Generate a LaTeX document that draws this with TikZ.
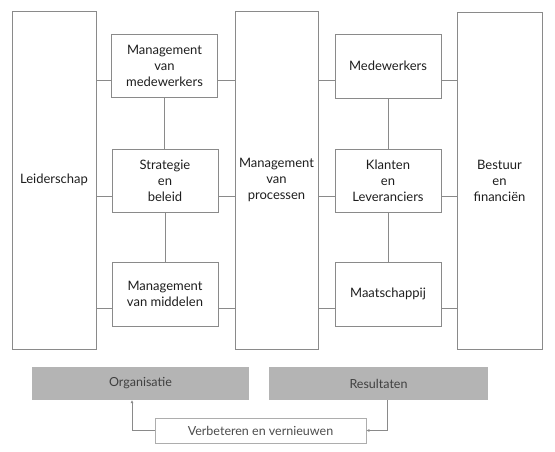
\documentclass[tikz,border=0pt]{standalone}
\usepackage{fontspec}
\setmainfont{Lato}
\usetikzlibrary{arrows.meta}
\definecolor{ln}{HTML}{8A8A8A}
\definecolor{gr}{HTML}{B4B4B4}
\definecolor{tx}{HTML}{1E1E1E}
\tikzset{
  box/.style={draw=ln, line width=0.9pt, align=center, text=tx, font=\fontsize{13}{16}\selectfont, inner sep=0pt},
  conn/.style={draw=ln, line width=0.9pt},
  graybox/.style={fill=gr, draw=none, text=black!75, font=\fontsize{12.5}{16}\selectfont, inner sep=0pt},
  arr/.style={draw=ln, line width=0.7pt, -{Latex[length=3pt,width=3pt]}}
}
\begin{document}
\begin{tikzpicture}[x=1pt,y=1pt]
\useasboundingbox (0,0) rectangle (555,-451);
% tall boxes
\node[box, minimum width=84, minimum height=338] (lead) at (54,-180) {Leiderschap};
\node[box, minimum width=83, minimum height=338] (proc) at (276.5,-180) {Management\\van\\processen};
\node[box, minimum width=85, minimum height=337] (best) at (499.5,-180.5) {Bestuur\\en\\financiën};
% left column
\node[box, minimum width=106, minimum height=63] (mvm) at (164.5,-65.5) {Management\\van\\medewerkers};
\node[box, minimum width=106, minimum height=63] (str) at (165,-180.5) {Strategie\\en\\beleid};
\node[box, minimum width=106, minimum height=64] (mid) at (165,-294) {Management\\van middelen};
% right column
\node[box, minimum width=106, minimum height=64] (med) at (388,-66) {Medewerkers};
\node[box, minimum width=106, minimum height=63] (kla) at (388,-180.5) {Klanten\\en\\Leveranciers};
\node[box, minimum width=106, minimum height=64] (maa) at (388,-294) {Maatschappij};
% connectors
\draw[conn] (mvm.west |- 0,-80) -- (lead.east |- 0,-80);
\draw[conn] (mvm.east |- 0,-80) -- (proc.west |- 0,-80);
\draw[conn] (str.west |- 0,-196) -- (lead.east |- 0,-196);
\draw[conn] (str.east |- 0,-196) -- (proc.west |- 0,-196);
\draw[conn] (mid.west |- 0,-308) -- (lead.east |- 0,-308);
\draw[conn] (mid.east |- 0,-308) -- (proc.west |- 0,-308);
\draw[conn] (mvm.south) -- (mvm.south |- str.north);
\draw[conn] (str.south) -- (str.south |- mid.north);
\draw[conn] (med.west |- 0,-80) -- (proc.east |- 0,-80);
\draw[conn] (med.east |- 0,-80) -- (best.west |- 0,-80);
\draw[conn] (kla.west |- 0,-196) -- (proc.east |- 0,-196);
\draw[conn] (kla.east |- 0,-196) -- (best.west |- 0,-196);
\draw[conn] (maa.west |- 0,-308) -- (proc.east |- 0,-308);
\draw[conn] (maa.east |- 0,-308) -- (best.west |- 0,-308);
\draw[conn] (med.south) -- (med.south |- kla.north);
\draw[conn] (kla.south) -- (kla.south |- maa.north);
% bottom
\node[graybox, minimum width=217, minimum height=33] (org) at (140.5,-383.5) {Organisatie};
\node[graybox, minimum width=219, minimum height=33] (res) at (378.5,-383.5) {Resultaten};
\node[box, draw=ln!70, line width=0.7pt, text=black!70, font=\fontsize{12.5}{16}\selectfont, minimum width=211, minimum height=25] (ver) at (260.5,-430.5) {Verbeteren en vernieuwen};
\coordinate (c1) at (387,-430.5);
\coordinate (c2) at (132,-430.5);
\draw[arr] (res.south -| c1) -- (c1) -- (ver.east);
\draw[arr] (ver.west) -- (c2) -- (org.south -| c2);
\end{tikzpicture}
\end{document}
